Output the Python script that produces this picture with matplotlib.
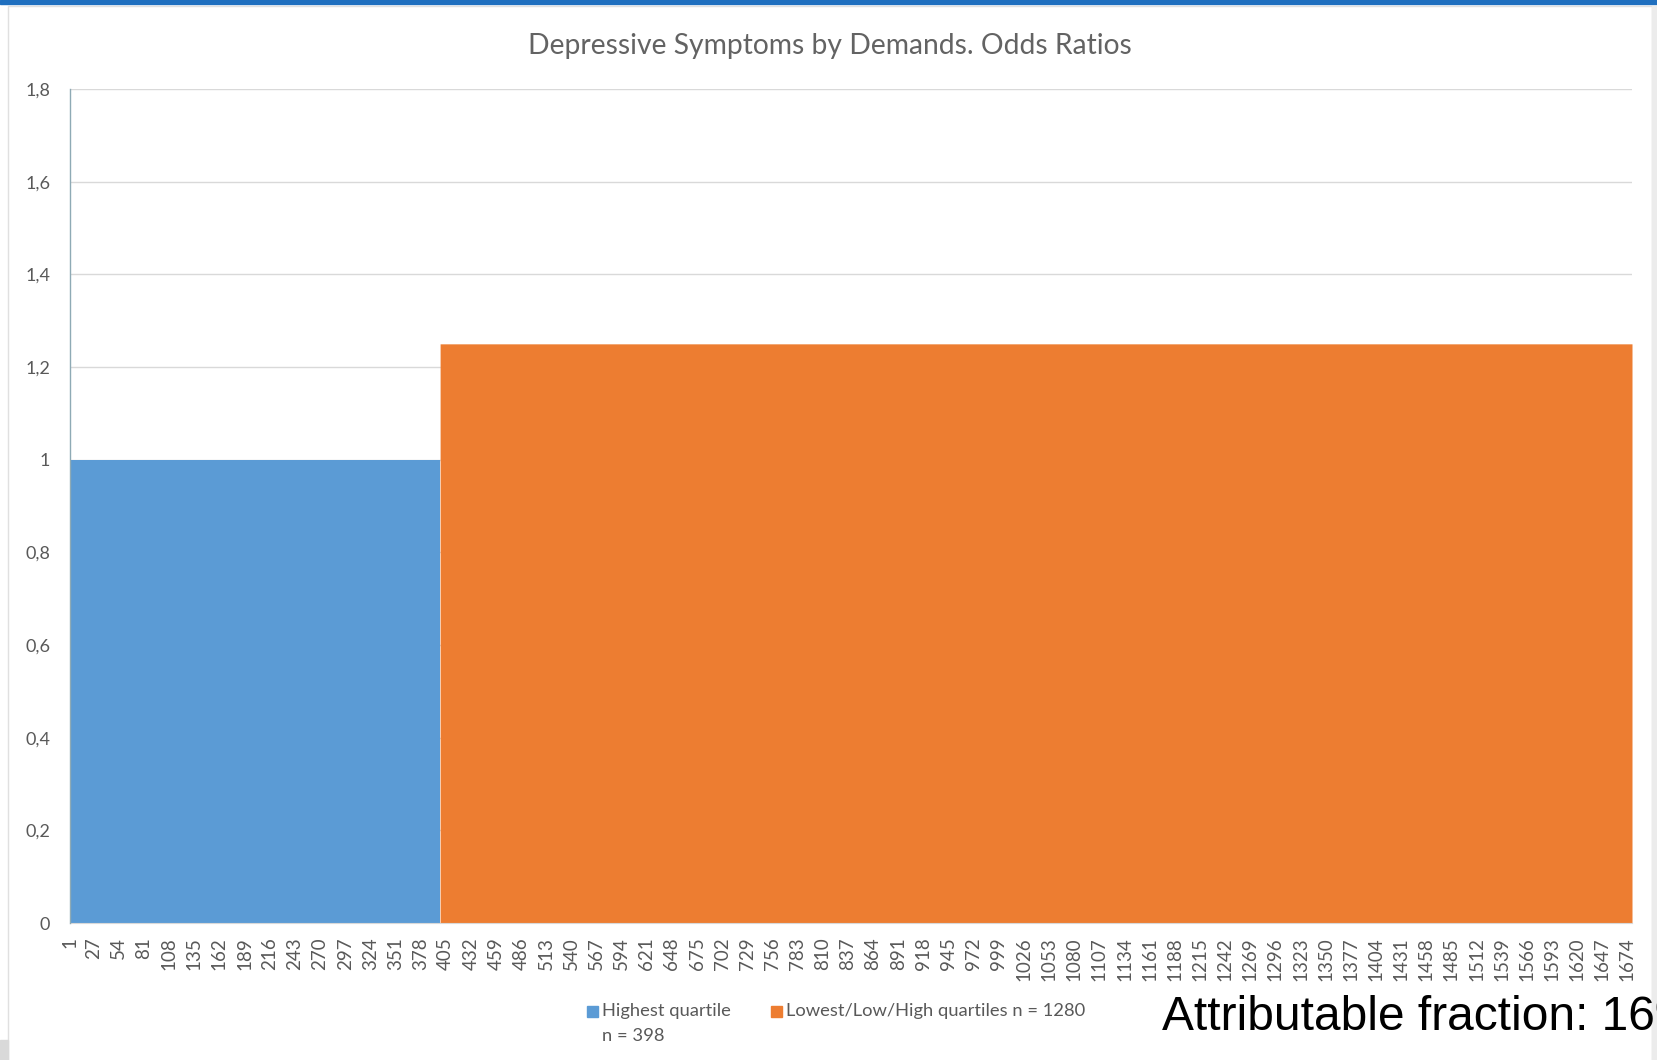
import numpy as np
import matplotlib.pyplot as plt
from matplotlib.patches import Rectangle

plt.rcParams['font.family'] = ['Lato', 'DejaVu Sans']

# groups, sizes and odds ratios
group_names = ["Highest quartile", "Lowest/Low/High quartiles n = 1280"]
group_notes = ["n = 398", ""]
group_sizes = [398, 1280]
odds_ratios = [1.0, 1.25]
group_colors = ["#5B9BD5", "#ED7D31"]

y_ticks = [0, 0.2, 0.4, 0.6, 0.8, 1.0, 1.2, 1.4, 1.6, 1.8]
y_labels = ["0", "0,2", "0,4", "0,6", "0,8", "1", "1,2", "1,4", "1,6", "1,8"]
x_labels = [1, 27, 54, 81, 108, 135, 162, 189, 216, 243, 270, 297, 324, 351,
            378, 405, 432, 459, 486, 513, 540, 567, 594, 621, 648, 675, 702,
            729, 756, 783, 810, 837, 864, 891, 918, 945, 972, 999, 1026, 1053,
            1080, 1107, 1134, 1161, 1188, 1215, 1242, 1269, 1296, 1323, 1350,
            1377, 1404, 1431, 1458, 1485, 1512, 1539, 1566, 1593, 1620, 1647,
            1674]

TXT = "#595959"
GRID = "#d9d9d9"
W, H = 1657, 1060

fig = plt.figure(figsize=(W / 100, H / 100), dpi=100)
ax = fig.add_axes([69.5 / W, 1 - 923 / H, (1632 - 69.5) / W, (923 - 89) / H])

# one filled block per group, side by side along the respondent axis
start = 1
for size, val, col in zip(group_sizes, odds_ratios, group_colors):
    x = np.arange(start, start + size + 1)
    y = np.full(len(x), val)
    ax.fill_between(x, 0, y, color=col, lw=0, zorder=2)
    start += size
ax.set_xlim(1, start)
ax.set_ylim(0, 1.8)

ax.set_yticks(y_ticks)
ax.set_yticklabels(y_labels)
ax.set_xticks(x_labels)
ax.set_xticklabels([str(v) for v in x_labels], rotation=90)
ax.tick_params(axis="y", length=0, pad=14, labelsize=13, labelcolor=TXT)
ax.tick_params(axis="x", length=0, pad=10, labelsize=13.5, labelcolor=TXT)
ax.yaxis.grid(True, color=GRID, lw=1, zorder=0)
ax.set_axisbelow(True)
for s in ("top", "right"):
    ax.spines[s].set_visible(False)
ax.spines["left"].set_color("#8eaab5")
ax.spines["left"].set_linewidth(1)
ax.spines["left"].set_zorder(3)
ax.spines["bottom"].set_color(GRID)

fig.text(830 / W, 1 - 54 / H, "Depressive Symptoms by Demands. Odds Ratios",
         ha="center", va="baseline", fontsize=20.3, color="#636363")

# legend drawn by hand so the marker sits on the first line
leg_x = [587, 771]
for lx, name, note, col in zip(leg_x, group_names, group_notes, group_colors):
    fig.patches.append(Rectangle((lx / W, 1 - 1017 / H), 11 / W, 11 / H,
                                 transform=fig.transFigure, color=col))
    fig.text((lx + 15) / W, 1 - 1011 / H, name, ha="left", va="center",
             fontsize=13.2, color=TXT)
    if note:
        fig.text((lx + 15) / W, 1 - 1036 / H, note, ha="left", va="center",
                 fontsize=13.2, color=TXT)

fig.text(1162 / W, 1 - 1030 / H, "Attributable fraction: 16%",
         ha="left", va="baseline", fontsize=34.5, color="black",
         family="Liberation Sans")

# frame and window edges
fig.patches.append(Rectangle((0, 1 - 4 / H), 1, 4 / H, transform=fig.transFigure,
                             color="#1f6fbf"))
fig.patches.append(Rectangle((8 / W, -0.01), (1652 - 8) / W, 1 - 6 / H + 0.01,
                             transform=fig.transFigure, fill=False,
                             ec="#e0e0e0", lw=1))
fig.patches.append(Rectangle((0, 0), 8 / W, 20 / H, transform=fig.transFigure,
                             color="#d9d9d9"))
fig.patches.append(Rectangle((1652 / W, 0), 5 / W, 1 - 6 / H,
                             transform=fig.transFigure, color="#ececec"))

fig.savefig("out.png", dpi=100)
